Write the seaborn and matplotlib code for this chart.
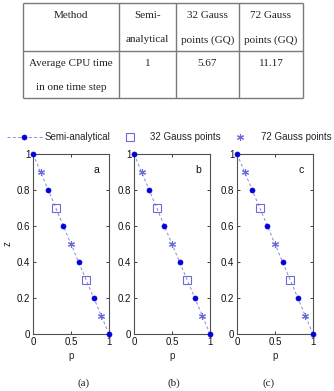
import matplotlib
matplotlib.use("Agg")
import matplotlib.pyplot as plt
import seaborn as sns
import numpy as np
import pandas as pd

# ---- data ----
table_header = [["Method"], ["Semi-", "analytical"], ["32 Gauss", "points (GQ)"], ["72 Gauss", "points (GQ)"]]
table_row = [["Average CPU time", "in one time step"], ["1"], ["5.67"], ["11.17"]]

z_semi = [1.0, 0.8, 0.6, 0.4, 0.2, 0.0]
p_semi = [0.0, 0.2, 0.4, 0.6, 0.8, 1.0]
z_gq32 = [0.7, 0.3]
p_gq32 = [0.3, 0.7]
z_gq72 = [0.9, 0.5, 0.1]
p_gq72 = [0.1, 0.5, 0.9]

panel_tags = ["a", "b", "c"]
panel_captions = ["(a)", "(b)", "(c)"]
yticks = [0, 0.2, 0.4, 0.6, 0.8, 1]
yticklabels = ["0", "0.2", "0.4", "0.6", "0.8", "1"]
xticks = [0, 0.5, 1]
xticklabels = ["0", "0.5", "1"]
legend_labels = ["Semi-analytical", "32 Gauss points", "72 Gauss points"]

sns.set_style("ticks")
plt.rcParams['font.family'] = ['Liberation Sans', 'DejaVu Sans']

W, H = 334, 391
fig = plt.figure(figsize=(W / 100, H / 100), dpi=100)

def fx(px):
    return px / W

def fy(py):
    return 1 - py / H

# ---- table ----
tab_left, tab_right, tab_top, tab_bot = 23, 303, 3, 98
col_b = [23, 119, 176, 239, 303]
row_b = [3, 51, 98]
tax = fig.add_axes([0, 0, 1, 1])
tax.set_xlim(0, W)
tax.set_ylim(H, 0)
tax.axis("off")
lc = "#7a7a7a"
for x in col_b:
    tax.plot([x, x], [tab_top, tab_bot], color=lc, lw=1.0, solid_capstyle="butt")
for y in row_b:
    tax.plot([tab_left, tab_right], [y, y], color=lc, lw=1.0, solid_capstyle="butt")
serif = ['Liberation Serif', 'DejaVu Serif']
for i, lines in enumerate(table_header):
    cx = (col_b[i] + col_b[i + 1]) / 2
    for j, t in enumerate(lines):
        tax.text(cx, 16 + 24 * j, t, ha="center", va="center", fontsize=8, family=serif, color="#222222")
for i, lines in enumerate(table_row):
    cx = (col_b[i] + col_b[i + 1]) / 2
    for j, t in enumerate(lines):
        tax.text(cx, 63 + 24 * j, t, ha="center", va="center", fontsize=8, family=serif, color="#222222")

# ---- panels ----
lefts = [33, 134, 237]
ax_w = 76
ax_top, ax_bot = 154, 334
line_col = "#8888dd"
dot_col = "#0000dd"
mk_col = "#6a6ad8"
handles = None
for k, lp in enumerate(lefts):
    ax = fig.add_axes([fx(lp), fy(ax_bot), ax_w / W, (ax_bot - ax_top) / H])
    df_s = pd.DataFrame({"p": p_semi, "z": z_semi})
    df_32 = pd.DataFrame({"p": p_gq32, "z": z_gq32})
    df_72 = pd.DataFrame({"p": p_gq72, "z": z_gq72})
    sns.lineplot(data=df_s, x="p", y="z", ax=ax, color=line_col, lw=0.7,
                 linestyle=(0, (3, 2.5)), marker="o", markersize=3.6,
                 markerfacecolor=dot_col, markeredgecolor=dot_col, markeredgewidth=0.5,
                 clip_on=False, label=legend_labels[0], sort=False, zorder=3)
    sns.lineplot(data=df_32, x="p", y="z", ax=ax, linestyle="none", marker="s",
                 markersize=6, markerfacecolor="none", markeredgecolor=mk_col,
                 markeredgewidth=0.8, clip_on=False, label=legend_labels[1], sort=False, zorder=4)
    sns.lineplot(data=df_72, x="p", y="z", ax=ax, linestyle="none", marker=(6, 2, 0),
                 markersize=5, markerfacecolor=mk_col, markeredgecolor=mk_col,
                 markeredgewidth=0.8, clip_on=False, label=legend_labels[2], sort=False, zorder=4)
    if handles is None:
        handles, labs = ax.get_legend_handles_labels()
    if ax.get_legend() is not None:
        ax.get_legend().remove()
    ax.set_xlim(0, 1)
    ax.set_ylim(0, 1)
    ax.set_xticks(xticks)
    ax.set_xticklabels(xticklabels)
    ax.set_yticks(yticks)
    ax.set_yticklabels(yticklabels)
    ax.tick_params(direction="in", length=2.5, width=0.7, labelsize=7, pad=2,
                   top=True, right=True, colors="#404040", labelcolor="#111111")
    for s in ax.spines.values():
        s.set_visible(True)
        s.set_color("#505050")
        s.set_linewidth(0.8)
    ax.set_xlabel("p", fontsize=7, labelpad=3)
    if k == 0:
        ax.set_ylabel("z", fontsize=7, va="center")
        ax.yaxis.set_label_coords(-0.34, 0.5)
    else:
        ax.set_ylabel("")
    ax.text(0.84, 0.91, panel_tags[k], transform=ax.transAxes, fontsize=7.5,
            ha="center", va="center", color="#111111")

cap_x = [84, 174, 269]
for k, t in enumerate(panel_captions):
    fig.text(fx(cap_x[k]), fy(383), t, ha="center", va="center", fontsize=8,
             family=serif, color="#222222")

fig.legend(handles, legend_labels, loc="center", bbox_to_anchor=(fx(169), fy(137)),
           ncol=3, frameon=False, fontsize=7, handlelength=3.6, handletextpad=0.3,
           columnspacing=0.2, borderpad=0, borderaxespad=0)

fig.savefig("out.png", dpi=100)
